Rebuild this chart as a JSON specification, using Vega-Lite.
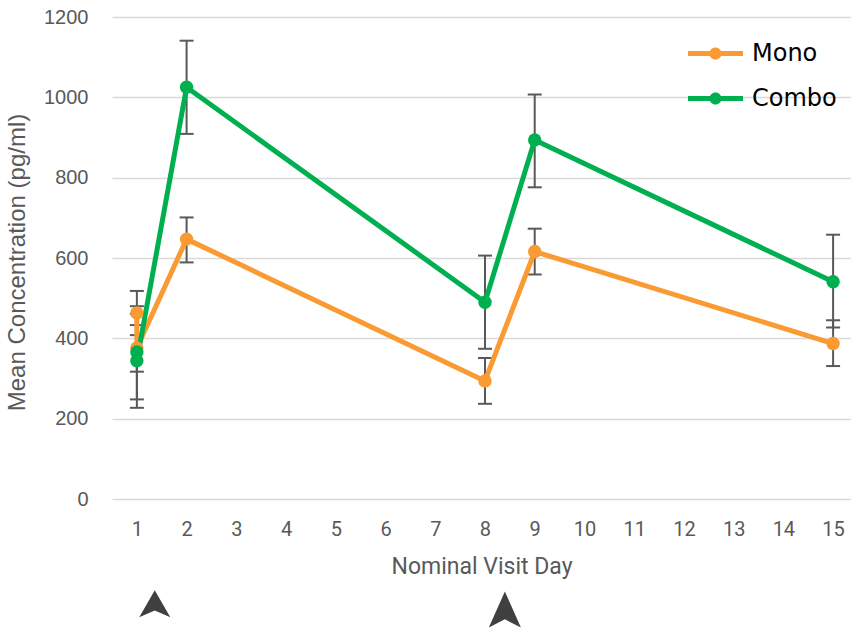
{
  "$schema": "https://vega.github.io/schema/vega-lite/v6.json",
  "width": 739,
  "height": 482,
  "autosize": {"type": "none"},
  "padding": {"left": 112, "top": 17, "right": 0, "bottom": 133},
  "background": "white",
  "config": {"view": {"stroke": null}},
  "datasets": {
    "series": [
      {"group": "Mono", "seq": 1, "day": 1, "mean": 463, "lo": 408, "hi": 518},
      {"group": "Mono", "seq": 2, "day": 1, "mean": 376, "lo": 317, "hi": 433},
      {"group": "Mono", "seq": 3, "day": 2, "mean": 647, "lo": 589, "hi": 701},
      {"group": "Mono", "seq": 4, "day": 8, "mean": 294, "lo": 237, "hi": 351},
      {"group": "Mono", "seq": 5, "day": 9, "mean": 616, "lo": 559, "hi": 673},
      {"group": "Mono", "seq": 6, "day": 15, "mean": 387, "lo": 331, "hi": 445},
      {"group": "Combo", "seq": 1, "day": 1, "mean": 366, "lo": 248, "hi": 480},
      {"group": "Combo", "seq": 2, "day": 1, "mean": 344, "lo": 227, "hi": 461},
      {"group": "Combo", "seq": 3, "day": 2, "mean": 1025, "lo": 909, "hi": 1141},
      {"group": "Combo", "seq": 4, "day": 8, "mean": 490, "lo": 374, "hi": 606},
      {"group": "Combo", "seq": 5, "day": 9, "mean": 894, "lo": 776, "hi": 1007},
      {"group": "Combo", "seq": 6, "day": 15, "mean": 541, "lo": 427, "hi": 658}
    ],
    "arrows": [
      {"marker": "a", "day": 1.36, "level": -261},
      {"marker": "b", "day": 8.4, "level": -275}
    ]
  },
  "layer": [
    {
      "data": {"name": "series"},
      "mark": {"type": "rule", "color": "#595959", "strokeWidth": 2},
      "encoding": {
        "x": {"field": "day", "type": "quantitative"},
        "y": {"field": "lo", "type": "quantitative"},
        "y2": {"field": "hi"}
      }
    },
    {
      "data": {"name": "series"},
      "mark": {"type": "tick", "orient": "horizontal", "color": "#595959", "size": 14, "thickness": 2, "opacity": 1},
      "encoding": {
        "x": {"field": "day", "type": "quantitative"},
        "y": {"field": "lo", "type": "quantitative"}
      }
    },
    {
      "data": {"name": "series"},
      "mark": {"type": "tick", "orient": "horizontal", "color": "#595959", "size": 14, "thickness": 2, "opacity": 1},
      "encoding": {
        "x": {"field": "day", "type": "quantitative"},
        "y": {"field": "hi", "type": "quantitative"}
      }
    },
    {
      "data": {"name": "series"},
      "mark": {"type": "line", "strokeWidth": 5, "strokeCap": "round", "strokeJoin": "round"},
      "encoding": {
        "x": {"field": "day", "type": "quantitative"},
        "y": {"field": "mean", "type": "quantitative"},
        "order": {"field": "seq"},
        "color": {"field": "group", "type": "nominal"}
      }
    },
    {
      "data": {"name": "series"},
      "mark": {"type": "point", "filled": true, "opacity": 1, "size": 180, "shape": "circle"},
      "encoding": {
        "x": {"field": "day", "type": "quantitative"},
        "y": {"field": "mean", "type": "quantitative"},
        "color": {"field": "group", "type": "nominal"}
      }
    },
    {
      "data": {"name": "arrows"},
      "mark": {"type": "point", "filled": true, "opacity": 1, "clip": false, "color": "#404040"},
      "encoding": {
        "x": {"field": "day", "type": "quantitative"},
        "y": {"field": "level", "type": "quantitative"},
        "shape": {"field": "marker", "type": "nominal", "legend": null,
          "scale": {"domain": ["a", "b"], "range": ["M0,-1L1.15,1L0,0.5L-1.15,1Z", "M0,-1L0.89,1L0,0.55L-0.89,1Z"]}},
        "size": {"field": "marker", "type": "nominal", "legend": null,
          "scale": {"domain": ["a", "b"], "range": [729, 1296]}}
      }
    }
  ],
  "encoding": {
    "x": {
      "scale": {"domain": [0.5, 15.36], "nice": false, "zero": false},
      "axis": {
        "title": "Nominal Visit Day",
        "values": [1, 2, 3, 4, 5, 6, 7, 8, 9, 10, 11, 12, 13, 14, 15],
        "grid": false, "domain": false, "ticks": false,
        "labelFont": "Roboto", "labelFontSize": 20, "labelColor": "#595959", "labelPadding": 20,
        "titleFont": "Roboto", "titleFontSize": 23, "titleFontWeight": "normal", "titleColor": "#595959", "titlePadding": 16
      }
    },
    "y": {
      "scale": {"domain": [0, 1200], "nice": false},
      "axis": {
        "title": "Mean Concentration (pg/ml)",
        "values": [0, 200, 400, 600, 800, 1000, 1200],
        "format": "d",
        "grid": true, "gridColor": "#d9d9d9", "gridWidth": 1.3,
        "domain": false, "ticks": false,
        "labelFont": "Liberation Sans", "labelFontSize": 20, "labelColor": "#595959", "labelPadding": 24,
        "titleFont": "Liberation Sans", "titleFontSize": 24, "titleFontWeight": "normal", "titleColor": "#595959",
        "titleX": -95, "titleY": 245, "titleAngle": -90, "titleAlign": "center", "titleBaseline": "middle"
      }
    },
    "color": {
      "scale": {"domain": ["Mono", "Combo"], "range": ["#F99A32", "#00B050"]},
      "legend": {
        "title": null, "orient": "none", "legendX": 576, "legendY": 9,
        "padding": 0, "rowPadding": 5,
        "symbolType": "M-1,-0.09L1,-0.09L1,0.09L-1,0.09Z M-0.22,0A0.22,0.22,0,1,1,0.22,0A0.22,0.22,0,1,1,-0.22,0Z",
        "symbolSize": 3025, "symbolStrokeWidth": 0, "symbolOpacity": 1,
        "labelFont": "DejaVu Sans", "labelFontSize": 24, "labelColor": "#000000", "labelOffset": 9,
        "encode": {"symbols": {"update": {"fill": {"scale": "color", "field": "value"}, "strokeWidth": {"value": 0}, "opacity": {"value": 1}}}}
      }
    }
  }
}
